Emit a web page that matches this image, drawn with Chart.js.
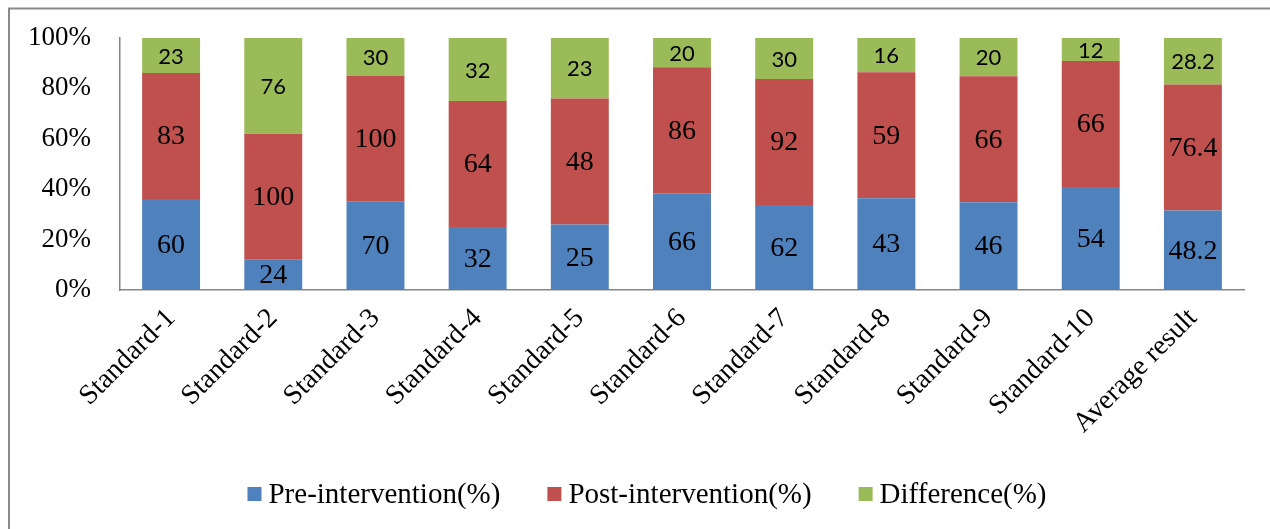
<!DOCTYPE html>
<html>
<head>
<meta charset="utf-8">
<script src="https://cdn.jsdelivr.net/npm/chart.js@4/dist/chart.umd.min.js"></script>
<style>
  html, body { margin: 0; padding: 0; background: #ffffff; }
  canvas { display: block; }
</style>
</head>
<body>
<canvas id="chart" width="1270" height="529"></canvas>
<script>
// Categories and series (raw scores per standard)
const categories = ['Standard-1', 'Standard-2', 'Standard-3', 'Standard-4', 'Standard-5',
  'Standard-6', 'Standard-7', 'Standard-8', 'Standard-9', 'Standard-10', 'Average result'];
const preIntervention  = [60, 24, 70, 32, 25, 66, 62, 43, 46, 54, 48.2];
const postIntervention = [83, 100, 100, 64, 48, 86, 92, 59, 66, 66, 76.4];
const difference       = [23, 76, 30, 32, 23, 20, 30, 16, 20, 12, 28.2];
const seriesNames = ['Pre-intervention(%)', 'Post-intervention(%)', 'Difference(%)'];
const yTicks = [0, 20, 40, 60, 80, 100];

const SERIF = '"Liberation Serif", "Times New Roman", serif';
const SANS = 'Lato, "Open Sans", sans-serif';

// 100% stacking: each column's parts as a share of the column total
const totals = categories.map((_, i) => preIntervention[i] + postIntervention[i] + difference[i]);
const share = arr => arr.map((v, i) => v / totals[i] * 100);

const rawSeries = [preIntervention, postIntervention, difference];

// Value labels centred in each stacked segment
const segmentLabels = {
  id: 'segmentLabels',
  afterDatasetsDraw(chart) {
    const ctx = chart.ctx;
    ctx.save();
    ctx.textAlign = 'center';
    ctx.textBaseline = 'middle';
    ctx.fillStyle = '#000000';
    chart.data.datasets.forEach((ds, di) => {
      const meta = chart.getDatasetMeta(di);
      ctx.font = di === 2 ? '22px ' + SANS : '28px ' + SERIF;
      meta.data.forEach((bar, i) => {
        const yMid = (bar.y + bar.base) / 2;
        ctx.fillText(String(rawSeries[di][i]), bar.x, yMid + 1);
      });
    });
    ctx.restore();
  }
};

// Outer frame line along the top and left edges
const frame = {
  id: 'frame',
  beforeDraw(chart) {
    const ctx = chart.ctx;
    ctx.save();
    ctx.fillStyle = '#ffffff';
    ctx.fillRect(0, 0, chart.width, chart.height);
    ctx.strokeStyle = '#8a8a8a';
    ctx.lineWidth = 2;
    ctx.beginPath();
    ctx.moveTo(9, chart.height);
    ctx.lineTo(9, 8.5);
    ctx.lineTo(chart.width, 8.5);
    ctx.stroke();
    ctx.restore();
  }
};

// Bottom legend: square marker followed by series name
const bottomLegend = {
  id: 'bottomLegend',
  afterDraw(chart) {
    const ctx = chart.ctx;
    ctx.save();
    ctx.font = '29px ' + SERIF;
    ctx.textBaseline = 'middle';
    ctx.textAlign = 'left';
    const box = 14, textGap = 7, itemGap = 47;
    const items = chart.data.datasets.map(ds => ({
      label: ds.label, color: ds.backgroundColor, w: ctx.measureText(ds.label).width
    }));
    const total = items.reduce((s, it) => s + box + textGap + it.w, 0) + itemGap * (items.length - 1);
    let x = 647 - total / 2;
    const cy = 494;
    items.forEach(it => {
      ctx.fillStyle = it.color;
      ctx.fillRect(x, cy - box / 2, box, box);
      ctx.fillStyle = '#000000';
      ctx.fillText(it.label, x + box + textGap, cy + 1);
      x += box + textGap + it.w + itemGap;
    });
    ctx.restore();
  }
};

new Chart(document.getElementById('chart'), {
  type: 'bar',
  data: {
    labels: categories,
    datasets: [
      { label: seriesNames[0], data: share(preIntervention),  backgroundColor: '#4F81BD' },
      { label: seriesNames[1], data: share(postIntervention), backgroundColor: '#C0504D' },
      { label: seriesNames[2], data: share(difference),       backgroundColor: '#9BBB59' }
    ]
  },
  options: {
    responsive: false,
    animation: false,
    devicePixelRatio: 1,
    layout: { padding: { left: 0, top: 38, right: 26, bottom: 0 } },
    datasets: {
      bar: { barPercentage: 0.567, categoryPercentage: 1.0, borderWidth: 0 }
    },
    plugins: {
      legend: { display: false },
      tooltip: { enabled: false }
    },
    scales: {
      x: {
        stacked: true,
        grid: { display: false },
        border: { display: true, color: '#868686', width: 1.5 },
        ticks: {
          color: '#000000',
          font: { family: SERIF, size: 28 },
          minRotation: 45,
          maxRotation: 45,
          autoSkip: false,
          padding: 4
        },
        afterFit(scale) {
          scale.height = 529 - 290;
          scale.paddingLeft = 0;
          scale.paddingRight = 0;
        }
      },
      y: {
        stacked: true,
        min: 0,
        max: 100,
        grid: { display: false, drawTicks: false },
        border: { display: true, color: '#868686', width: 1.5 },
        afterBuildTicks(scale) { scale.ticks = yTicks.map(v => ({ value: v })); },
        ticks: {
          color: '#000000',
          font: { family: SERIF, size: 27 },
          padding: 29,
          callback: v => v + '%'
        },
        afterFit(scale) {
          scale.width = 120;
          scale.paddingTop = 0;
          scale.paddingBottom = 0;
        }
      }
    }
  },
  plugins: [frame, segmentLabels, bottomLegend]
});
</script>
</body>
</html>
